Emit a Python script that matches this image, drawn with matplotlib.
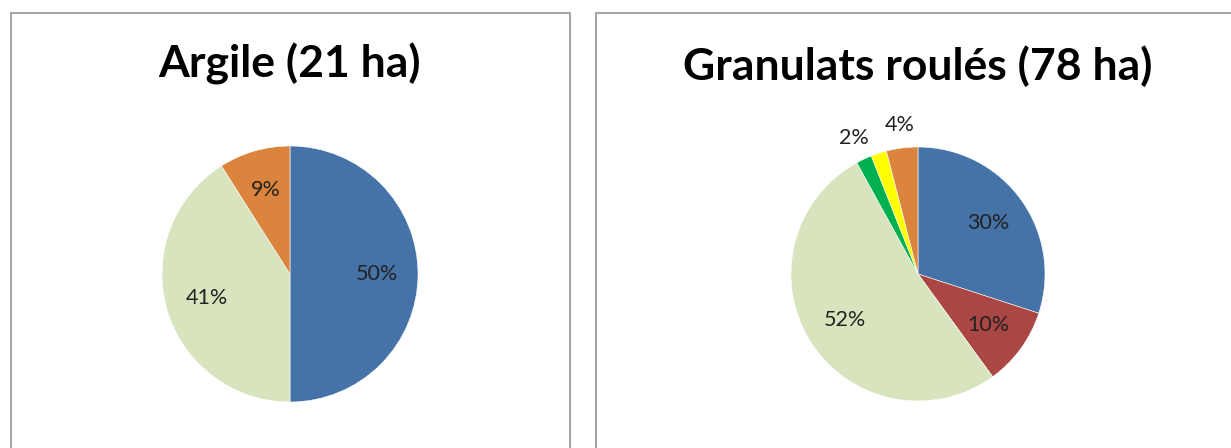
import numpy as np
import matplotlib.pyplot as plt
from matplotlib.patches import Rectangle

plt.rcParams['font.family'] = ['Lato', 'DejaVu Sans']

# données
categories = ['A', 'B', 'C', 'D', 'E', 'F']
colors = ['#4572A7', '#AA4643', '#D7E4BD', '#00B050', '#FFFF00', '#DB843D']
argile = [50, 0, 41, 0, 0, 9]
argile_labels = ['50%', '', '41%', '', '', '9%']
granulats = [30, 10, 52, 2, 2, 4]
granulats_labels = ['30%', '10%', '52%', '2%', '', '4%']
titles = ['Argile (21 ha)', 'Granulats roulés (78 ha)']

W, H = 1231, 448
fig = plt.figure(figsize=(W / 100, H / 100), dpi=100)
fig.patch.set_facecolor('white')


def px_box(x0, y0, w, h):
    # pixels (origine en haut à gauche) -> coordonnées figure
    return [x0 / W, 1 - (y0 + h) / H, w / W, h / H]


# cadres des graphiques
for (x0, y0, x1, y1) in [(11, 13, 570, 470), (596, 13, 1260, 470)]:
    b = px_box(x0, y0, x1 - x0, y1 - y0)
    fig.patches.append(Rectangle((b[0], b[1]), b[2], b[3], transform=fig.transFigure,
                                 fill=False, edgecolor='#A6A6A6', linewidth=1.5))


def draw_pie(cx, cy, r, values, labels, title, title_y):
    ax = fig.add_axes(px_box(cx - r, cy - r, 2 * r, 2 * r))
    vals = [v for v in values if v > 0]
    cols = [c for v, c in zip(values, colors) if v > 0]
    labs = [l for v, l in zip(values, labels) if v > 0]
    wedges, _ = ax.pie(vals, colors=cols, startangle=90, counterclock=False,
                       wedgeprops=dict(edgecolor='white', linewidth=0.4))
    for w, lab, v in zip(wedges, labs, vals):
        w.set_clip_on(False)
        if not lab:
            continue
        ang = np.deg2rad((w.theta1 + w.theta2) / 2)
        d = 1.18 if v < 5 else 0.68
        ax.text(d * np.cos(ang), d * np.sin(ang), lab, ha='center', va='center',
                fontsize=15.5, color='#222222')
    ax.set_xlim(-1, 1)
    ax.set_ylim(-1, 1)
    ax.set_aspect('equal')
    ax.axis('off')
    fig.text(cx / W, 1 - title_y / H, title, ha='center', va='center',
             fontsize=32, fontweight='bold', color='black')


draw_pie(290, 274, 128, argile, argile_labels, titles[0], 64)
draw_pie(918, 274, 127, granulats, granulats_labels, titles[1], 66)

fig.savefig('out.png', dpi=100)
